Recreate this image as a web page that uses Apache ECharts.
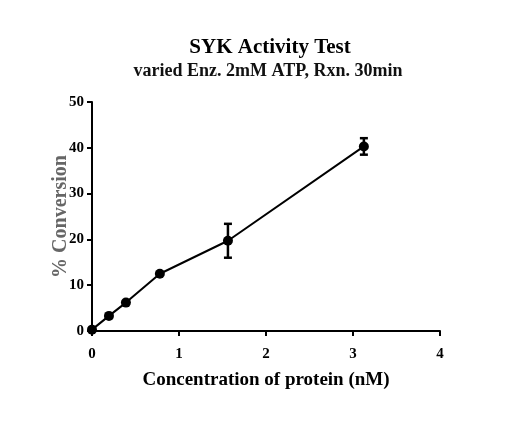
<!DOCTYPE html>
<html>
<head>
<meta charset="utf-8">
<script src="https://cdn.jsdelivr.net/npm/echarts@6/dist/echarts.min.js"></script>
<style>
html,body{margin:0;padding:0;background:#fff;}
#chart{width:514px;height:425px;}
</style>
</head>
<body>
<div id="chart"></div>
<script>
// protein concentration (nM), mean % conversion, and error (+/-)
var conc = [0, 0.195, 0.39, 0.78, 1.5625, 3.125];
var conversion = [0.3, 3.3, 6.2, 12.5, 19.7, 40.3];
var errs = [0, 0, 0, 0, 3.7, 1.8];
var xTicks = [0, 1, 2, 3, 4];
var yTicks = [0, 10, 20, 30, 40, 50];

var font = "'Liberation Serif', 'Times New Roman', serif";

var points = [];
var bars = [];
for (var i = 0; i < conc.length; i++) {
    points.push([conc[i], conversion[i]]);
    if (errs[i] > 0) bars.push([conc[i], conversion[i] - errs[i], conversion[i] + errs[i]]);
}

var myChart = echarts.init(document.getElementById("chart"));
var option = {
    backgroundColor: "#fff",
    animation: false,
    title: [{
        text: "SYK Activity Test",
        left: 265, top: 32, textAlign: "center",
        textStyle: {fontFamily: font, fontSize: 21, fontWeight: "bold", color: "#000"}
    }, {
        text: "varied Enz. 2mM ATP, Rxn. 30min",
        left: 263, top: 57, textAlign: "center",
        textStyle: {fontFamily: font, fontSize: 18, fontWeight: "bold", color: "#111"}
    }],
    grid: {left: 92, right: 74, top: 102, bottom: 94},
    xAxis: {
        type: "value", min: xTicks[0], max: xTicks[xTicks.length - 1], interval: 1,
        name: "Concentration of protein (nM)", nameLocation: "middle", nameGap: 40,
        nameMoveOverlap: false,
        nameTextStyle: {fontFamily: font, fontSize: 19, fontWeight: "bold", color: "#000"},
        axisLine: {lineStyle: {color: "#000", width: 2}},
        axisTick: {show: true, length: 5, lineStyle: {color: "#000", width: 2}},
        axisLabel: {fontFamily: font, fontSize: 15, fontWeight: "bold", color: "#000", margin: 16},
        splitLine: {show: false}
    },
    yAxis: {
        type: "value", min: yTicks[0], max: yTicks[yTicks.length - 1], interval: 10,
        name: "% Conversion", nameLocation: "middle", nameGap: 21,
        nameMoveOverlap: false,
        nameTextStyle: {fontFamily: font, fontSize: 20, fontWeight: "bold", color: "#666"},
        axisLine: {show: true, lineStyle: {color: "#000", width: 2}},
        axisTick: {show: true, length: 5, lineStyle: {color: "#000", width: 2}},
        axisLabel: {fontFamily: font, fontSize: 15, fontWeight: "bold", color: "#000", margin: 8},
        splitLine: {show: false}
    },
    series: [{
        type: "line",
        data: points,
        symbol: "circle",
        symbolSize: 10,
        itemStyle: {color: "#000"},
        lineStyle: {color: "#000", width: 2},
        z: 3
    }, {
        type: "custom",
        data: bars,
        z: 4,
        renderItem: function (params, api) {
            var x = api.value(0);
            var lo = api.coord([x, api.value(1)]);
            var hi = api.coord([x, api.value(2)]);
            var w = 4;
            var st = {stroke: "#000", lineWidth: 2.5};
            return {
                type: "group",
                children: [
                    {type: "line", shape: {x1: lo[0], y1: lo[1], x2: hi[0], y2: hi[1]}, style: st},
                    {type: "line", shape: {x1: lo[0] - w, y1: lo[1], x2: lo[0] + w, y2: lo[1]}, style: st},
                    {type: "line", shape: {x1: hi[0] - w, y1: hi[1], x2: hi[0] + w, y2: hi[1]}, style: st}
                ]
            };
        }
    }]
};
myChart.setOption(option);
</script>
</body>
</html>
